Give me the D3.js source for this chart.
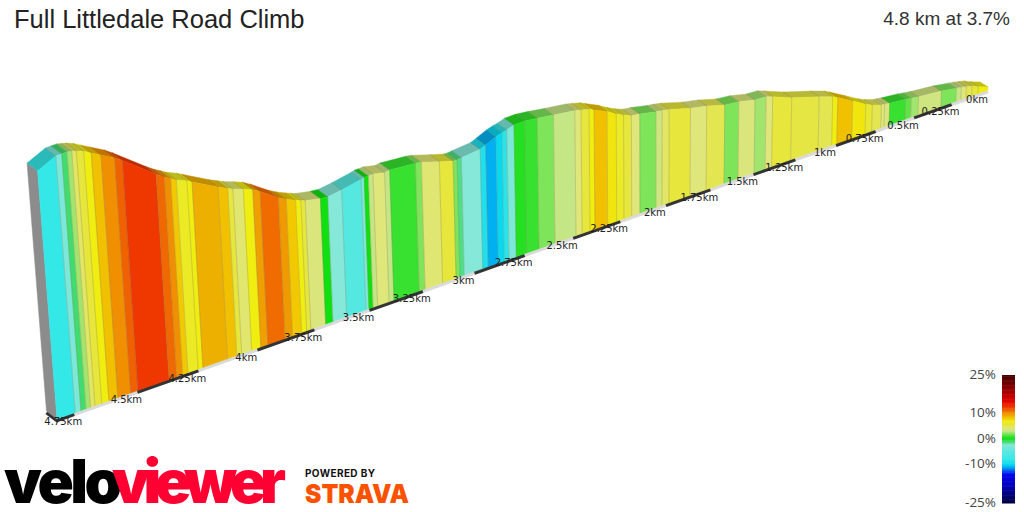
<!doctype html>
<html lang="en">
<head>
<meta charset="utf-8">
<script src="https://d3js.org/d3.v7.min.js"></script>
<style>
body { margin: 0; background: #fff; }
svg { display: block; }
.title { font: 25.5px "Liberation Sans", Arial, sans-serif; fill: #222; }
.stats { font: 19px "Liberation Sans", Arial, sans-serif; fill: #333; text-anchor: end; }
.km { font: 10px "DejaVu Sans", sans-serif; fill: #222; text-anchor: middle; dominant-baseline: middle; }
.legend-label { font: 13.5px "Open Sans", sans-serif; fill: #444; text-anchor: end; dominant-baseline: middle; }
.logo { font-family: Inter, "Liberation Sans", sans-serif; font-weight: 900; }
</style>
</head>
<body>
<script>
// distance from the top of the climb (km) at every colour change
const segmentKm = [4.817,4.746,4.724,4.704,4.686,4.669,4.642,4.614,4.578,4.527,4.498,4.371,4.34,4.315,4.293,4.251,4.231,4.127,4.088,4.067,4.024,3.985,3.954,3.879,3.846,3.806,3.784,3.765,3.699,3.666,3.604,3.516,3.502,3.483,3.462,3.409,3.386,3.267,3.239,3.155,3.09,3.071,3.05,2.959,2.932,2.882,2.852,2.828,2.792,2.739,2.676,2.594,2.485,2.453,2.411,2.385,2.317,2.269,2.23,2.188,2.143,2.055,2.022,1.983,1.865,1.774,1.671,1.59,1.496,1.431,1.392,1.278,1.111,1.027,0.995,0.901,0.817,0.775,0.717,0.696,0.663,0.559,0.522,0.474,0.321,0.22,0.186,0.152,0.113,0.069,0];
// height of the road above the base (m) at those same points
const elevation = [171.1,177.9,178.3,178.6,178.1,177.5,175.9,173.3,170.1,165.5,162.2,146,142.4,140.1,137.9,135.1,133.3,124.2,121.2,119.7,117.3,114.9,111.9,103.5,100.6,97.8,96.4,95.3,93.4,93.1,94.9,98.3,99.1,99.2,99.6,97.9,98.7,97.8,97.2,93.4,90.6,90.5,91.1,93.1,95.1,99.1,100.8,101.8,104,104.5,103.7,102.2,100.5,99.5,98,96.2,91.6,87.4,84.6,82.1,81.3,78.9,78.3,77.3,72.6,70.1,66.1,65,62,61.7,59.8,53.5,46.5,42.5,40.2,32.7,25.9,23.2,20.4,20.1,19.4,18,17.1,16.2,14.2,11.9,11.2,10.2,9,6.3,2.8];
// gradient (%) of each stretch between two points above
const gradient = [-8,-3,-1,2.5,4.5,5.5,7,8.3,10,11.3,12.5,11.1,10,8,6.3,7,9,8.3,5.5,4.3,7,9.5,11,9.7,8,7,5.5,3.8,0,-2.5,-5,-3,0,3,4,3,1,2,4.2,5.5,2,-1.3,-2.5,-9,-11,-10,-8.5,-3,0.5,1,2,3,4,5.5,7,8.3,7.2,6.3,5.5,4,2,3.3,4.5,5.5,4,5,2,3.8,2.5,4,5.5,5.3,5,7,8.3,7.2,5.8,5,4,3.8,1,1.6,2.5,3.4,2,3,4,5,5.5,7];

const tickKm = [4.75,4.5,4.25,4,3.75,3.5,3.25,3,2.75,2.5,2.25,2,1.75,1.5,1.25,1,0.75,0.5,0.25,0];
const tickLabels = ["4.75km","4.5km","4.25km","4km","3.75km","3.5km","3.25km","3km","2.75km","2.5km","2.25km","2km","1.75km","1.5km","1.25km","1km","0.75km","0.5km","0.25km","0km"];

const gradeStops = [25,20,15,12.5,11,10,9,8,7,5.5,4,3,2,1,0,-1,-2.5,-5,-8,-10,-11,-14,-18,-25];
const gradeColours = ["#400000","#8a0000","#e00000","#ee3800","#f06c00","#f09000","#eeb000","#f2c800","#f0ee10","#e6e63c","#dfe67a","#c4e684","#7ee45a","#38e030","#10e010","#40dc70","#85e8d8","#55e8e0","#35e8e8","#08d8f0","#00b0f0","#0000f0","#0000c0","#000040"];
const legendTicks = [25,10,0,-10,-25];
const legendLabels = ["25%","10%","0%","-10%","-25%"];

const colour = d3.scaleLinear().domain(gradeStops).range(gradeColours).interpolate(d3.interpolateRgb);

const svg = d3.select("body").append("svg").attr("width", 1024).attr("height", 512);

// perspective along the road
const persp = -0.05295, slope = -196.3, endX = 988;
const baseX = km => (endX + slope * km) / (1 + persp * km);
const baseY = d3.scaleLinear().domain([74, 988]).range([413, 90]);
const heightScale = km => 1.08 / (1 + persp * km);
const vanish = [650, 8000];
const depthX = d3.scaleLinear().domain([0, 4.817]).range([-8, -10.5]);
const depthY = d3.scaleLinear().domain([0, 4.817]).range([-5, -8]);

function front(km, elev) {
  const bx = baseX(km), by = baseY(bx);
  const k = elev * heightScale(km) / (vanish[1] - by);
  return [bx + (bx - vanish[0]) * k, by + (by - vanish[1]) * k];
}
const back = (km, elev) => {
  const p = front(km, elev);
  return [p[0] + depthX(km), p[1] + depthY(km)];
};
const path = d3.line();
const darker = (c, f) => { const r = d3.rgb(c); return d3.rgb(r.r * f, r.g * f, r.b * f).formatHex(); };

const stretches = gradient.map((g, i) => ({
  g, km0: segmentKm[i], km1: segmentKm[i + 1], e0: elevation[i], e1: elevation[i + 1]
}));

// base strip
const stripLine = (from, to) => path([[baseX(from), baseY(baseX(from)) + 1.5], [baseX(to), baseY(baseX(to)) + 1.5]]);
const strip = svg.append("g");
strip.append("path")
  .attr("d", stripLine(4.75, 0))
  .attr("stroke", "#dadada").attr("stroke-width", 3.5).attr("fill", "none");
tickKm.forEach((km, i) => {
  if (i % 2 == 0 || i == tickKm.length - 1) return;
  strip.append("path")
    .attr("d", stripLine(km, tickKm[i + 1]))
    .attr("stroke", "#333").attr("stroke-width", 3.5).attr("fill", "none");
});
// the black piece round the first corner
const startKm = segmentKm[0];
const corner = [baseX(startKm), baseY(baseX(startKm))];
strip.append("path")
  .attr("d", path([
    [corner[0] + depthX(startKm), corner[1] + depthY(startKm) + 1.5],
    [corner[0], corner[1] + 1.5],
    [baseX(4.75), baseY(baseX(4.75)) + 1.5]]))
  .attr("stroke", "#333").attr("stroke-width", 3.5).attr("fill", "none");

// end wall
svg.append("path")
  .attr("d", path([
    back(startKm, elevation[0]), front(startKm, elevation[0]), corner,
    [corner[0] + depthX(startKm), corner[1] + depthY(startKm)]]) + "Z")
  .attr("fill", "#8c8c8c").attr("stroke", "#8c8c8c").attr("stroke-width", 0.5);

// road surface
svg.append("g").selectAll("path").data(stretches).join("path")
  .attr("d", s => path([front(s.km0, s.e0), front(s.km1, s.e1), back(s.km1, s.e1), back(s.km0, s.e0)]) + "Z")
  .attr("fill", s => darker(colour(s.g), 0.8))
  .attr("stroke", s => darker(colour(s.g), 0.8))
  .attr("stroke-width", 0.4);

// side of the road
svg.append("g").selectAll("path").data(stretches).join("path")
  .attr("d", s => path([front(s.km0, s.e0), front(s.km1, s.e1), front(s.km1, 0), front(s.km0, 0)]) + "Z")
  .attr("fill", s => colour(s.g))
  .attr("stroke", s => colour(s.g))
  .attr("stroke-width", 0.4);

// dividing lines
svg.append("g").selectAll("path").data(segmentKm.slice(1, -1)).join("path")
  .attr("d", (km, i) => path([front(km, elevation[i + 1]), front(km, 0)]))
  .attr("stroke", "#807850").attr("stroke-opacity", 0.3).attr("stroke-width", 1).attr("fill", "none");
svg.append("g").selectAll("path").data(segmentKm.slice(1, -1)).join("path")
  .attr("d", (km, i) => path([front(km, elevation[i + 1]), back(km, elevation[i + 1])]))
  .attr("stroke", "#605830").attr("stroke-opacity", 0.25).attr("stroke-width", 1).attr("fill", "none");

// distance labels
svg.append("g").selectAll("text").data(tickKm).join("text")
  .attr("class", "km")
  .attr("x", km => baseX(km) - 11)
  .attr("y", km => baseY(baseX(km)) + 9.5)
  .text((km, i) => tickLabels[i]);

svg.append("text").attr("class", "title").attr("x", 14).attr("y", 28).text("Full Littledale Road Climb");
svg.append("text").attr("class", "stats").attr("x", 1010).attr("y", 25).text("4.8 km at 3.7%");

// colour key
const legendY = d3.scaleLinear().domain([25, -25]).range([375, 503]);
svg.append("g").selectAll("rect").data(d3.range(25, -25, -0.5)).join("rect")
  .attr("x", 1002).attr("width", 13)
  .attr("y", d => legendY(d))
  .attr("height", d => legendY(d - 0.5) - legendY(d) + 0.5)
  .attr("fill", d => colour(d - 0.25));
svg.append("g").selectAll("text").data(legendTicks).join("text")
  .attr("class", "legend-label")
  .attr("x", 996)
  .attr("y", d => legendY(d))
  .text((d, i) => legendLabels[i]);

// brand marks
const logo = svg.append("g").attr("class", "logo");
logo.append("text").attr("x", 4).attr("y", 503).attr("font-size", 60).attr("fill", "#000")
  .attr("textLength", 118).attr("lengthAdjust", "spacing").text("velo");
logo.append("text").attr("x", 112).attr("y", 503).attr("font-size", 60).attr("fill", "#ff0033")
  .attr("textLength", 174).attr("lengthAdjust", "spacing").text("viewer");
logo.append("text").attr("x", 305).attr("y", 477).attr("font-size", 10).attr("fill", "#111")
  .attr("font-weight", 700).attr("textLength", 70).text("POWERED BY");
logo.append("text").attr("x", 305).attr("y", 503).attr("font-size", 26).attr("fill", "#fc5200")
  .attr("textLength", 104).attr("lengthAdjust", "spacingAndGlyphs").text("STRAVA");
</script>
</body>
</html>
